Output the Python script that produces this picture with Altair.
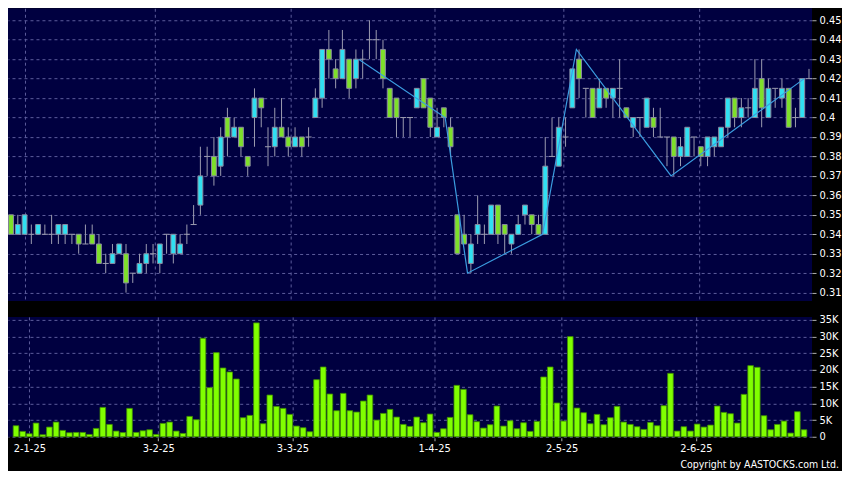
import altair as alt
import pandas as pd

# ---- data (index = trading-day position) ----
opens = [0.35,0.34,0.34,0.34,0.34,0.34,0.34,0.34,0.34,0.34,
         0.34,0.335,0.34,0.335,0.325,0.325,0.33,0.33,0.32,0.32,
         0.325,0.33,0.325,0.34,0.33,0.33,0.34,0.345,0.355,0.38,
         0.38,0.375,0.40,0.39,0.395,0.38,0.40,0.41,0.385,0.385,
         0.395,0.39,0.385,0.39,0.39,0.40,0.41,0.435,0.425,0.42,
         0.43,0.42,0.43,0.44,0.44,0.435,0.415,0.41,0.40,0.40,
         0.405,0.42,0.41,0.39,0.405,0.395,0.35,0.34,0.325,0.34,
         0.34,0.34,0.355,0.345,0.335,0.34,0.35,0.35,0.345,0.34,
         0.38,0.375,0.39,0.405,0.43,0.415,0.415,0.405,0.415,0.41,
         0.415,0.405,0.395,0.40,0.395,0.40,0.39,0.39,0.39,0.38,
         0.38,0.39,0.385,0.38,0.385,0.385,0.395,0.41,0.40,0.405,
         0.40,0.42,0.40,0.415,0.41,0.415,0.40,0.40,0.42]
highs = [0.35,0.35,0.35,0.345,0.345,0.345,0.35,0.345,0.345,0.34,
         0.34,0.345,0.345,0.34,0.33,0.335,0.335,0.335,0.32,0.33,
         0.335,0.335,0.335,0.34,0.34,0.34,0.345,0.355,0.385,0.385,
         0.39,0.395,0.405,0.40,0.395,0.38,0.415,0.41,0.395,0.405,
         0.41,0.395,0.395,0.39,0.395,0.415,0.435,0.445,0.43,0.445,
         0.43,0.435,0.435,0.45,0.445,0.44,0.415,0.41,0.40,0.40,
         0.415,0.42,0.41,0.405,0.405,0.40,0.35,0.35,0.34,0.36,
         0.345,0.355,0.355,0.345,0.34,0.35,0.355,0.35,0.35,0.39,
         0.40,0.40,0.40,0.425,0.435,0.415,0.415,0.42,0.415,0.415,
         0.43,0.405,0.40,0.40,0.41,0.405,0.405,0.39,0.39,0.39,
         0.395,0.39,0.385,0.39,0.39,0.395,0.41,0.41,0.41,0.41,
         0.43,0.43,0.42,0.415,0.42,0.415,0.405,0.42,0.425]
lows = [0.34,0.34,0.34,0.335,0.34,0.34,0.335,0.335,0.335,0.335,
        0.33,0.335,0.335,0.325,0.32,0.325,0.33,0.31,0.315,0.32,
        0.32,0.325,0.32,0.33,0.325,0.33,0.335,0.345,0.35,0.37,
        0.365,0.37,0.38,0.39,0.38,0.37,0.385,0.395,0.375,0.38,
        0.39,0.38,0.385,0.38,0.385,0.40,0.405,0.42,0.415,0.42,
        0.41,0.415,0.42,0.43,0.43,0.415,0.40,0.39,0.39,0.39,
        0.405,0.405,0.39,0.39,0.395,0.38,0.33,0.335,0.32,0.335,
        0.335,0.34,0.335,0.33,0.33,0.34,0.345,0.34,0.34,0.34,
        0.38,0.375,0.385,0.405,0.41,0.40,0.40,0.405,0.405,0.40,
        0.40,0.40,0.39,0.39,0.395,0.39,0.39,0.375,0.37,0.375,
        0.38,0.38,0.375,0.375,0.38,0.385,0.39,0.395,0.395,0.40,
        0.40,0.395,0.40,0.405,0.405,0.395,0.395,0.40,0.42]
closes = [0.34,0.345,0.35,0.34,0.345,0.34,0.34,0.345,0.345,0.34,
          0.335,0.335,0.335,0.325,0.325,0.33,0.335,0.315,0.32,0.325,
          0.33,0.33,0.335,0.34,0.34,0.335,0.34,0.345,0.37,0.38,
          0.37,0.39,0.39,0.395,0.385,0.375,0.41,0.405,0.385,0.395,
          0.39,0.385,0.39,0.385,0.39,0.41,0.435,0.43,0.42,0.435,
          0.415,0.43,0.43,0.44,0.44,0.42,0.40,0.40,0.40,0.40,
          0.415,0.405,0.395,0.395,0.40,0.385,0.33,0.335,0.335,0.345,
          0.34,0.355,0.34,0.34,0.34,0.345,0.355,0.345,0.34,0.375,
          0.38,0.395,0.39,0.425,0.42,0.415,0.40,0.415,0.41,0.415,
          0.415,0.40,0.40,0.40,0.41,0.395,0.39,0.39,0.38,0.385,
          0.395,0.39,0.38,0.39,0.39,0.395,0.41,0.40,0.405,0.405,
          0.415,0.405,0.415,0.415,0.415,0.395,0.40,0.42,0.42]
volumes_k = [3.3,1.6,0.9,4.1,0.6,2.9,4.4,1.9,1.2,1.3,
             1.3,0.7,2.5,8.8,3.7,1.7,1.25,8.5,1.3,1.8,
             2.1,0.7,4.0,4.4,1.7,1.0,6.1,5.1,29.5,14.7,
             25.2,20.6,19.4,17.3,5.7,6.4,34.1,3.9,12.5,9.1,
             8.5,6.7,3.2,2.7,1.5,17.1,20.9,12.8,7.8,13.0,
             7.8,7.4,10.7,12.5,5.0,7.0,8.2,5.9,3.7,3.1,
             5.9,4.2,6.8,1.3,2.4,5.8,15.4,14.2,6.6,4.5,
             2.6,3.6,9.2,3.2,4.8,2.4,4.2,1.6,4.6,17.9,
             20.9,10.1,4.7,30.0,8.6,7.2,3.9,6.7,3.6,5.7,
             9.1,4.4,3.7,3.0,2.2,4.3,3.3,9.3,19.0,1.7,
             3.0,1.7,3.8,2.9,3.5,9.2,7.3,6.9,4.1,12.7,
             21.3,20.8,6.3,2.1,3.7,4.7,1.1,7.5,2.1]

# zig-zag indicator points (position on the day axis, price)
zz_pos = [51.4, 64.2, 67.5, 78.6, 83.6, 97.6, 117.3]
zz_price = [0.43, 0.40, 0.32, 0.34, 0.435, 0.37, 0.42]

# x-axis date labels and their positions on the day axis
date_pos = [2, 21.3, 41.4, 62.6, 81.7, 101.8]
date_labels = ["2-1-25", "3-2-25", "3-3-25", "1-4-25", "2-5-25", "2-6-25"]

price_ticks = [0.31, 0.32, 0.33, 0.34, 0.35, 0.36, 0.37, 0.38, 0.39, 0.40,
               0.41, 0.42, 0.43, 0.44, 0.45]
vol_ticks = [0, 5000, 10000, 15000, 20000, 25000, 30000, 35000]
copyright_text = "Copyright by AASTOCKS.com Ltd."

n = len(opens)
df = pd.DataFrame({
    "i": list(range(n)),
    "open": opens, "high": highs, "low": lows, "close": closes,
    "vol": [v * 1000 for v in volumes_k],
})
zz = pd.DataFrame({"zx": zz_pos, "zy": zz_price})

FONT = "DejaVu Sans Condensed"
NAVY = "#000040"
GRID = "#5c5c9c"
CYAN = "#30e0f2"
GREEN = "#7ee02a"
WICK = "#9c9cb0"

xs = alt.Scale(domain=[-0.45, 118.45], nice=False, zero=False)
W = 805

label_expr = "[" + ",".join("'%s'" % s for s in date_labels) + "][indexof([" + \
    ",".join(str(p) for p in date_pos) + "], datum.value)]"

x_grid_axis = alt.Axis(values=date_pos, labels=False, ticks=False, domain=False,
                       grid=True, gridColor=GRID, gridDash=[3, 3], title=None)

price_axis = alt.Axis(orient="right", values=price_ticks, format=".2~f",
                      labelOverlap=False,
                      grid=True, gridColor=GRID, gridDash=[3, 3], domain=False,
                      tickColor="#b0b0b0", tickSize=4, labelColor="white",
                      labelFont=FONT, labelFontSize=11, labelPadding=3, title=None)
ys = alt.Scale(domain=[0.30574, 0.45616], nice=False, zero=False)

base = alt.Chart(df)

wicks = base.mark_rule(color=WICK, strokeWidth=1).encode(
    x=alt.X("i:Q", scale=xs, axis=x_grid_axis),
    y=alt.Y("low:Q", scale=ys, axis=price_axis),
    y2="high:Q",
)

bodies = base.transform_filter("datum.open != datum.close").transform_calculate(
    xl="datum.i - 0.36", xr="datum.i + 0.36"
).mark_rect(stroke="#8a8aa0", strokeWidth=1).encode(
    x=alt.X("xl:Q", scale=xs, axis=x_grid_axis),
    x2="xr:Q",
    y=alt.Y("open:Q", scale=ys, axis=price_axis),
    y2="close:Q",
    fill=alt.condition("datum.close > datum.open", alt.value(CYAN), alt.value(GREEN)),
)

dojis = base.transform_filter("datum.open == datum.close").transform_calculate(
    xl="datum.i - 0.45", xr="datum.i + 0.45"
).mark_rule(color=WICK, strokeWidth=1).encode(
    x=alt.X("xl:Q", scale=xs, axis=x_grid_axis),
    x2="xr:Q",
    y=alt.Y("open:Q", scale=ys, axis=price_axis),
)

zigzag = alt.Chart(zz).mark_line(color="#3b9de0", strokeWidth=1.2).encode(
    x=alt.X("zx:Q", scale=xs, axis=x_grid_axis),
    y=alt.Y("zy:Q", scale=ys, axis=price_axis),
)

price = alt.layer(wicks, bodies, dojis, zigzag).properties(width=W, height=293)

vol_axis = alt.Axis(orient="right", values=vol_ticks, labelOverlap=False,
                    labelExpr="datum.value == 0 ? '0' : (datum.value / 1000) + 'K'",
                    grid=True, gridColor=GRID, gridDash=[3, 3], domain=False,
                    tickColor="#b0b0b0", tickSize=4, labelColor="white",
                    labelFont=FONT, labelFontSize=11, labelPadding=3, title=None)

date_axis = alt.Axis(values=date_pos, labelExpr=label_expr, grid=True,
                     gridColor=GRID, gridDash=[3, 3], domain=False,
                     tickColor="#b0b0b0", tickSize=3, offset=1, labelPadding=2,
                     labelColor="white", labelFont=FONT, labelFontSize=11,
                     labelFlush=False, labelOverlap=False, title=None)

vol_bars = alt.Chart(df).mark_bar(size=5.6, color="#80ff00", stroke="#3f8f00",
                                  strokeWidth=0.8).encode(
    x=alt.X("i:Q", scale=xs, axis=date_axis),
    y=alt.Y("vol:Q", scale=alt.Scale(domain=[0, 35900], nice=False), axis=vol_axis),
)

copyright = alt.Chart(pd.DataFrame({"t": [copyright_text]})).mark_text(
    align="right", baseline="middle", color="white", font=FONT, fontSize=10.5
).encode(text="t:N", x=alt.value(832), y=alt.value(148))

volume = alt.layer(vol_bars, copyright).properties(width=W, height=120)

chart = alt.vconcat(price, volume, spacing=13).properties(
    background="black", padding=0
).configure_view(fill=NAVY, stroke=None).configure_axis(labelOverlap=False)

chart.save("out.html", embed_options={"renderer": "svg", "actions": False})
